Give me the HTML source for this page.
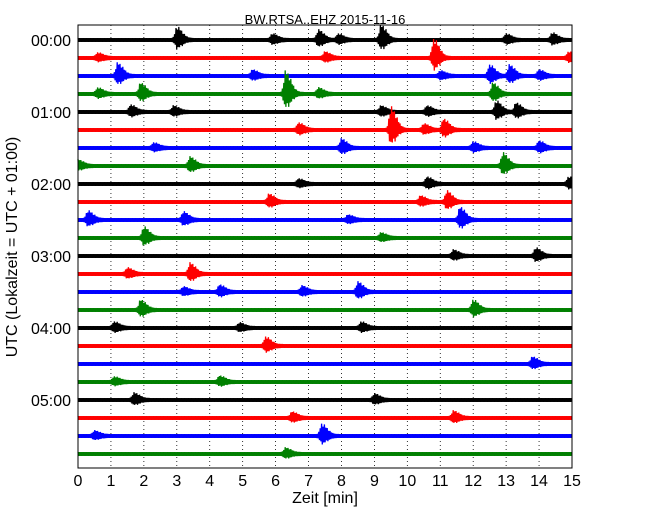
<!DOCTYPE html>
<html><head><meta charset="utf-8"><style>
body{margin:0;background:#fff;}
svg{display:block;font-family:"Liberation Sans",sans-serif;}
</style></head><body>
<svg id="chart" width="650" height="520" viewBox="0 0 650 520">
<text x="325" y="24" font-size="13" text-anchor="middle">BW.RTSA..EHZ 2015-11-16</text>
<g id="grid"></g><g id="traces"></g><g id="axes"></g>
<rect x="78" y="25" width="494" height="443" fill="none" stroke="#000" stroke-width="1"/>
<text x="325" y="503" font-size="16" text-anchor="middle">Zeit  [min]</text>
<text transform="translate(17,247) rotate(-90)" font-size="16" text-anchor="middle">UTC (Lokalzeit = UTC + 01:00)</text>
</svg>
<script>
const xTicks=[0,1,2,3,4,5,6,7,8,9,10,11,12,13,14,15];
const yLabels=["00:00","01:00","02:00","03:00","04:00","05:00"];
const colors=["#000","#f00","#00f","#008000"];
// events per row: [minute, half-amplitude px]
const events=[
[[3.0,12],[7.3,9],[9.2,14],[7.9,5],[13.0,5],[14.4,6],[5.9,5]],
[[10.8,18],[7.5,5],[0.6,4],[14.9,5]],
[[1.2,12],[5.3,5],[12.5,10],[13.1,10],[14.0,5],[11.0,4]],
[[1.9,10],[0.6,5],[6.3,22],[12.6,10],[7.3,5]],
[[1.6,6],[2.9,5],[9.2,5],[12.7,10],[13.3,8],[10.6,5]],
[[9.5,22],[11.1,10],[6.7,6],[10.5,5]],
[[8.0,8],[14.0,6],[12.0,5],[2.3,4]],
[[3.4,8],[12.9,12],[0.0,5]],
[[10.6,6],[14.9,6],[6.7,4]],
[[11.2,10],[5.8,7],[10.4,5]],
[[0.3,8],[11.6,12],[3.2,7],[8.2,4]],
[[2.0,10],[9.2,4]],
[[13.9,7],[11.4,5]],
[[3.4,10],[1.5,5]],
[[8.5,9],[4.3,6],[6.8,5],[3.2,4]],
[[1.9,9],[12.0,9]],
[[1.1,5],[4.9,4],[8.6,5]],
[[5.7,8]],
[[13.8,6]],
[[4.3,5],[1.1,4]],
[[1.7,6],[9.0,5]],
[[6.5,5],[11.4,6]],
[[7.4,11],[0.5,4]],
[[6.3,5]]
];
const NS="http://www.w3.org/2000/svg";
const X0=78,X1=572,Y0=40,DY=18;
const xs=m=>X0+(X1-X0)*m/15;
const ys=r=>Y0+r*DY;
const grid=document.getElementById('grid'),axes=document.getElementById('axes'),tr=document.getElementById('traces');
xTicks.forEach(t=>{
  if(t>0&&t<15){const l=document.createElementNS(NS,'line');
  l.setAttribute('x1',xs(t));l.setAttribute('x2',xs(t));l.setAttribute('y1',25);l.setAttribute('y2',468);
  l.setAttribute('stroke','#000');l.setAttribute('stroke-width','0.8');l.setAttribute('stroke-dasharray','1,3');
  
  
  grid.appendChild(l);}
  const tx=document.createElementNS(NS,'text');
  tx.setAttribute('x',xs(t));tx.setAttribute('y',486);tx.setAttribute('font-size','16');tx.setAttribute('text-anchor','middle');
  tx.textContent=t;
  
  
  axes.appendChild(tx);
});
yLabels.forEach((s,i)=>{
  const tx=document.createElementNS(NS,'text');
  tx.setAttribute('x',71);tx.setAttribute('y',ys(i*4)+6);tx.setAttribute('font-size','16');tx.setAttribute('text-anchor','end');
  tx.textContent=s;
  
  
  axes.appendChild(tx);
});
events.forEach((ev,r)=>{
  const y=ys(r);let pts=[];let k=0;
  for(let x=X0;x<=X1;x+=0.7,k++){
    const m=(x-X0)/(X1-X0)*15;let env=0;
    ev.forEach(([t0,a])=>{const d=m-t0;let e=0;
      if(d<0)e=a*Math.exp(-(d*d)/(2*0.05*0.05));else e=a*Math.exp(-(d*d)/(2*0.16*0.16));
      if(e>env)env=e;});
    const f=[1,0.5,0.8,0.35,0.95,0.6,0.7,0.45][k%8];
    const h=1.9+env*f;
    pts.push(x.toFixed(1)+','+(y+(k%2?h:-h)).toFixed(1));
  }
  const p=document.createElementNS(NS,'polyline');
  p.setAttribute('points',pts.join(' '));p.setAttribute('fill','none');
  p.setAttribute('stroke',colors[r%4]);p.setAttribute('stroke-width','1.3');
  
  
  tr.appendChild(p);
});
</script>
</body></html>
